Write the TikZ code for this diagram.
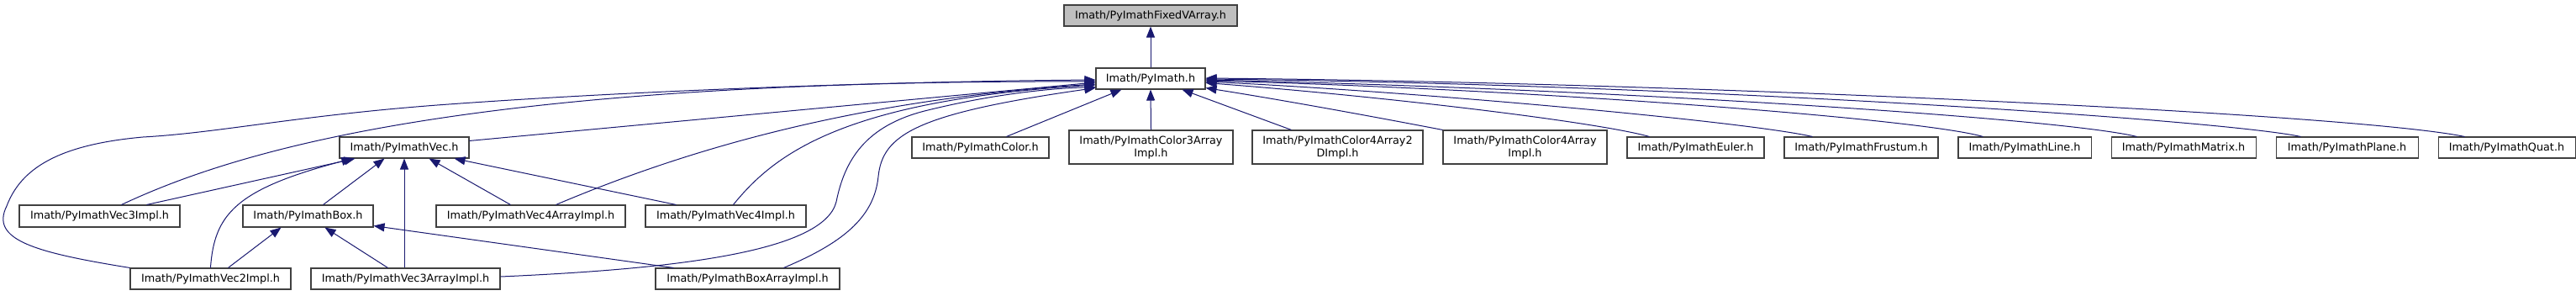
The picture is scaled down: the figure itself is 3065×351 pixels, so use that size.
\documentclass[tikz,border=0pt]{standalone}
\usepackage{fontspec}
\setmainfont{DejaVu Sans}
\usetikzlibrary{arrows.meta,calc}
\definecolor{edgeblue}{HTML}{191970}
\definecolor{rootgray}{HTML}{BFBFBF}
\begin{document}
\begin{tikzpicture}[x=0.75pt,y=-0.75pt,
  filebox/.style={draw=black!75, fill=white, line width=0.8pt, inner sep=0pt, align=center,
    font=\fontsize{9.6}{11.25}\selectfont},
  sz/.style 2 args={minimum width=#1*0.75pt, minimum height=#2*0.75pt},
  dep/.style={draw=edgeblue, line width=0.75pt, -{Triangle[length=9.75pt,width=7.5pt]}}
]
\useasboundingbox[fill=white] (0,0) rectangle (3065,351);

% rank 0
\node[filebox, fill=rootgray, sz={206}{25}] (fixed) at (1369,18.5) {Imath/PyImathFixedVArray.h};
% rank 1
\node[filebox, sz={130}{25}] (pyimath) at (1369,93.5) {Imath/PyImath.h};
% rank 2
\node[filebox, sz={154}{25}] (vec) at (481,175.5) {Imath/PyImathVec.h};
\node[filebox, sz={163}{25}] (color) at (1166.5,175.5) {Imath/PyImathColor.h};
\node[filebox, sz={195}{40}] (c3a) at (1369.5,175) {Imath/PyImathColor3Array\\Impl.h};
\node[filebox, sz={203}{40}] (c4a2d) at (1591.5,175) {Imath/PyImathColor4Array2\\DImpl.h};
\node[filebox, sz={195}{40}] (c4a) at (1814.5,175) {Imath/PyImathColor4Array\\Impl.h};
\node[filebox, sz={163}{25}] (euler) at (2017.5,175.5) {Imath/PyImathEuler.h};
\node[filebox, sz={183}{25}] (frustum) at (2214.5,175.5) {Imath/PyImathFrustum.h};
\node[filebox, sz={158}{25}] (line) at (2409,175.5) {Imath/PyImathLine.h};
\node[filebox, sz={172}{25}] (matrix) at (2598,175.5) {Imath/PyImathMatrix.h};
\node[filebox, sz={169}{25}] (plane) at (2792.5,175.5) {Imath/PyImathPlane.h};
\node[filebox, sz={163}{25}] (quat) at (2982.5,175.5) {Imath/PyImathQuat.h};
% rank 3
\node[filebox, sz={191}{26}] (vec3impl) at (118.5,257) {Imath/PyImathVec3Impl.h};
\node[filebox, sz={155}{26}] (box) at (366.5,257) {Imath/PyImathBox.h};
\node[filebox, sz={225}{26}] (vec4arr) at (631.5,257) {Imath/PyImathVec4ArrayImpl.h};
\node[filebox, sz={191}{26}] (vec4impl) at (863.5,257) {Imath/PyImathVec4Impl.h};
% rank 4
\node[filebox, sz={191}{25}] (vec2impl) at (250.5,331.5) {Imath/PyImathVec2Impl.h};
\node[filebox, sz={225}{25}] (vec3arr) at (482.5,331.5) {Imath/PyImathVec3ArrayImpl.h};
\node[filebox, sz={219}{25}] (boxarr) at (889.5,331.5) {Imath/PyImathBoxArrayImpl.h};

% PyImath.h -> FixedVArray
\draw[dep] (pyimath.north) -- (fixed.south);

% rank 2 -> PyImath.h
\draw[dep] (c3a.north) -- (pyimath.south);
\draw[dep] ($(color.north west)+(113,0)$) -- ($(pyimath.south west)+(31,0)$);
\draw[dep] ($(c4a2d.north west)+(47,0)$) -- ($(pyimath.south west)+(103,0)$);
\draw[dep] (c4a.north west) .. controls (1620,136) and (1520,118) .. ($(pyimath.south east)+(0,-2)$);
\draw[dep] ($(euler.north west)+(27,0)$) .. controls (1900,145) and (1650,115) .. ($(pyimath.east)+(0,5)$);
\draw[dep] ($(frustum.north west)+(34,0)$) .. controls (2080,145) and (1700,110) .. ($(pyimath.east)+(0,3.5)$);
\draw[dep] ($(line.north west)+(30,0)$) .. controls (2280,140) and (1800,105) .. ($(pyimath.east)+(0,2.5)$);
\draw[dep] ($(matrix.north west)+(31,0)$) .. controls (2450,140) and (1900,105) .. ($(pyimath.east)+(0,1.5)$);
\draw[dep] ($(plane.north west)+(30,0)$) .. controls (2640,142) and (2000,100) .. ($(pyimath.east)+(0,0.5)$);
\draw[dep] ($(quat.north west)+(32,0)$) .. controls (2800,135) and (2000,98) .. ($(pyimath.east)+(0,-0.5)$);

% left side -> PyImath.h
\draw[dep] ($(vec.north east)+(0,5)$) -- ($(pyimath.west)+(0,4.5)$);
\draw[dep] ($(vec3impl.north west)+(122,0)$) .. controls (280,180) and (550,95) .. ($(pyimath.west)+(0,3.5)$);
\draw[dep] (vec2impl.north west) .. controls (40,300) and (-12,285) .. (8,245)
  .. controls (25,200) and (70,172) .. (170,163)
  .. controls (260,158) and (350,138) .. (520,125)
  .. controls (750,108) and (1050,97) .. ($(pyimath.west)+(0,1.5)$);
\draw[dep] ($(vec4arr.north west)+(143,0)$) .. controls (800,185) and (1000,120) .. ($(pyimath.west)+(0,6.5)$);
\draw[dep] ($(vec4impl.north west)+(105,0)$) .. controls (920,185) and (1000,120) .. ($(pyimath.west)+(0,7.5)$);
\draw[dep] ($(vec3arr.east)+(0,-2.5)$) .. controls (800,320) and (980,300) .. (995,240)
  .. controls (1005,190) and (1030,150) .. (1100,132)
  .. controls (1180,112) and (1250,105) .. ($(pyimath.south west)+(0,-3)$);
\draw[dep] ($(boxarr.north west)+(153,0)$) .. controls (1000,290) and (1040,260) .. (1045,210)
  .. controls (1050,160) and (1090,135) .. ($(pyimath.south west)+(0,-2)$);

% -> PyImathVec.h
\draw[dep] ($(vec3impl.north west)+(152,0)$) -- ($(vec.south west)+(19,0)$);
\draw[dep] ($(vec2impl.north west)+(96,0)$) .. controls (255,255) and (280,225) .. ($(vec.south west)+(16,0)$);
\draw[dep] ($(box.north west)+(96,0)$) -- ($(vec.south west)+(54,0)$);
\draw[dep] (vec3arr.north -| vec.south) -- (vec.south);
\draw[dep] ($(vec4arr.north west)+(89,0)$) -- ($(vec.south east)+(-48,0)$);
\draw[dep] ($(vec4impl.north west)+(37,0)$) -- ($(vec.south east)+(-18,0)$);

% -> PyImathBox.h
\draw[dep] ($(vec2impl.north west)+(117,0)$) -- ($(box.south west)+(46,0)$);
\draw[dep] ($(vec3arr.north west)+(92,0)$) -- ($(box.south west)+(98,0)$);
\draw[dep] ($(boxarr.north west)+(22,0)$) -- ($(box.south east)+(0,-2)$);
\end{tikzpicture}
\end{document}
